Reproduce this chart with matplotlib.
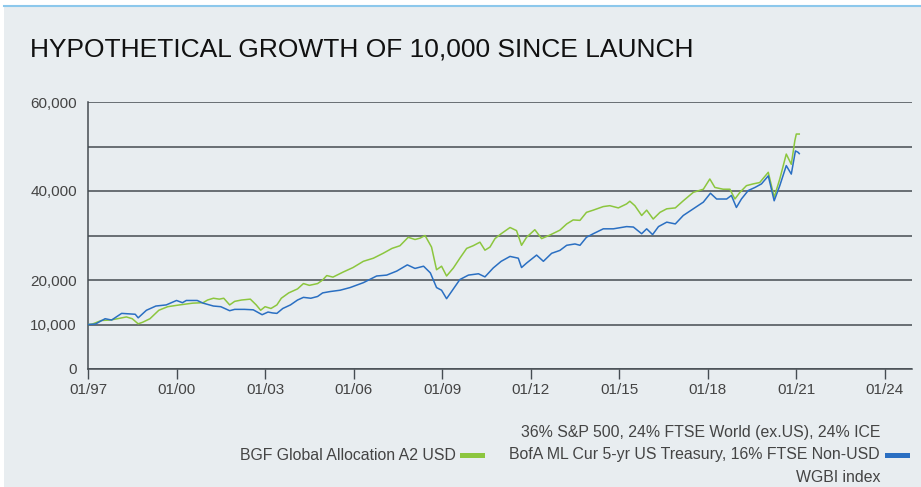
import matplotlib.pyplot as plt
from matplotlib.patches import Rectangle
from matplotlib.lines import Line2D

plt.rcParams['font.family'] = ['Liberation Sans', 'DejaVu Sans']

# Lecture approximative des deux courbes (année décimale, valeur)
fund_years = [1997.0, 1997.15, 1997.45, 1997.75, 1998.0, 1998.3, 1998.5, 1998.7, 1998.85,
              1999.1, 1999.4, 1999.7, 2000.1, 2000.55, 2000.9, 2001.05, 2001.25, 2001.45,
              2001.6, 2001.8, 2001.97, 2002.2, 2002.5, 2002.7, 2002.85, 2003.0, 2003.2,
              2003.4, 2003.55, 2003.8, 2004.1, 2004.3, 2004.5, 2004.78, 2004.95, 2005.09,
              2005.3, 2005.65, 2005.98, 2006.33, 2006.67, 2007.0, 2007.3, 2007.57, 2007.85,
              2008.08, 2008.25, 2008.42, 2008.64, 2008.81, 2008.98, 2009.15, 2009.38, 2009.6,
              2009.83, 2010.05, 2010.28, 2010.45, 2010.62, 2010.79, 2011.0, 2011.3, 2011.52,
              2011.69, 2011.86, 2012.14, 2012.37, 2012.65, 2012.99, 2013.22, 2013.44, 2013.67,
              2013.89, 2014.12, 2014.46, 2014.68, 2014.97, 2015.25, 2015.36, 2015.53, 2015.76,
              2015.93, 2016.15, 2016.38, 2016.61, 2016.9, 2017.17, 2017.51, 2017.85, 2018.07,
              2018.24, 2018.52, 2018.75, 2018.92, 2019.09, 2019.31, 2019.54, 2019.76, 2020.05,
              2020.25, 2020.44, 2020.66, 2020.83, 2020.95, 2021.0, 2021.1]
fund_values = [10000, 10100, 10900, 11000, 11300, 11700, 11300, 10150, 10500,
               11300, 13200, 14000, 14400, 14800, 14900, 15500, 15900, 15700,
               15900, 14400, 15200, 15500, 15700, 14400, 13200, 14000, 13600,
               14400, 15900, 17100, 18000, 19200, 18800, 19200, 20000, 21000,
               20650, 21800, 22800, 24200, 24900, 26000, 27100, 27700, 29600,
               29100, 29400, 30000, 27400, 22300, 23100, 20900, 22700, 24900,
               27100, 27700, 28500, 26700, 27400, 29300, 30400, 31800, 31100,
               27800, 29600, 31300, 29300, 30100, 31200, 32600, 33500, 33400,
               35200, 35700, 36500, 36700, 36200, 37100, 37700, 36700, 34500,
               35700, 33700, 35200, 36000, 36200, 37800, 39700, 40400, 42700,
               40800, 40400, 40400, 38200, 39700, 41200, 41600, 41900, 44200,
               38600, 42700, 48300, 46000, 51300, 52800, 52800]

bench_years = [1997.0, 1997.25, 1997.58, 1997.8, 1998.14, 1998.6, 1998.7, 1998.98, 1999.3,
               1999.65, 2000.0, 2000.2, 2000.33, 2000.7, 2000.9, 2001.25, 2001.5, 2001.8,
               2001.97, 2002.3, 2002.6, 2002.9, 2003.1, 2003.25, 2003.4, 2003.6, 2003.86,
               2004.1, 2004.3, 2004.55, 2004.78, 2004.95, 2005.2, 2005.54, 2005.88, 2006.33,
               2006.78, 2007.12, 2007.46, 2007.82, 2008.08, 2008.37, 2008.6, 2008.81, 2008.98,
               2009.15, 2009.38, 2009.6, 2009.89, 2010.23, 2010.45, 2010.73, 2011.0, 2011.3,
               2011.58, 2011.69, 2011.86, 2012.2, 2012.43, 2012.71, 2012.99, 2013.22, 2013.5,
               2013.67, 2013.89, 2014.12, 2014.46, 2014.8, 2015.25, 2015.48, 2015.76, 2015.93,
               2016.13, 2016.33, 2016.61, 2016.9, 2017.17, 2017.51, 2017.85, 2018.09, 2018.3,
               2018.64, 2018.8, 2018.97, 2019.14, 2019.37, 2019.6, 2019.82, 2020.05, 2020.25,
               2020.44, 2020.66, 2020.83, 2020.97, 2021.06, 2021.1]
bench_values = [10000, 10100, 11300, 11000, 12500, 12300, 11500, 13200, 14150,
                14400, 15400, 14900, 15400, 15400, 14800, 14150, 14000, 13100,
                13400, 13400, 13300, 12200, 12800, 12600, 12500, 13600, 14400,
                15500, 16100, 15900, 16300, 17100, 17400, 17700, 18300, 19400,
                20900, 21100, 22000, 23400, 22600, 23100, 21600, 18300, 17700,
                15800, 18000, 20100, 21100, 21400, 20700, 22700, 24200, 25300,
                24900, 22800, 23800, 25600, 24200, 26000, 26650, 27800, 28100,
                27800, 29600, 30400, 31500, 31500, 32000, 31900, 30400, 31500,
                30200, 32000, 33000, 32600, 34500, 36000, 37500, 39500, 38200,
                38200, 39000, 36300, 38200, 40100, 40800, 41600, 43400, 37800,
                41200, 45700, 43800, 49000, 48700, 48400]

x_tick_years = list(range(1997, 2025, 3))
x_tick_labels = ['01/%02d' % (y % 100) for y in x_tick_years]
y_ticks = [0, 10000, 20000, 30000, 40000, 50000, 60000]
y_tick_labels = ['0', '10,000', '20,000', '', '40,000', '', '60,000']

fund_name = 'BGF Global Allocation A2 USD'
bench_lines = ['36% S&P 500, 24% FTSE World (ex.US), 24% ICE',
               'BofA ML Cur 5-yr US Treasury, 16% FTSE Non-USD',
               'WGBI index']

bg = '#e8edf0'
green = '#8cc63e'
blue = '#2a6fc2'
grid_col = '#454c52'

W, H = 921, 487
fig = plt.figure(figsize=(W / 100, H / 100), dpi=100)
fig.patch.set_facecolor('white')
fig.patches.append(Rectangle((4 / W, 0), 1, 1 - 6 / H, transform=fig.transFigure,
                             facecolor=bg, edgecolor='none', zorder=-10))
fig.lines.append(Line2D([4 / W, 1], [1 - 6 / H, 1 - 6 / H], transform=fig.transFigure,
                        color='#8cc8ec', lw=1.5))

fig.text(30 / W, 1 - 57 / H, 'HYPOTHETICAL GROWTH OF 10,000 SINCE LAUNCH',
         fontsize=19, color='#111111', va='baseline', ha='left')

ax = fig.add_axes([88 / W, 1 - 369 / H, (912 - 88) / W, (369 - 102) / H])
ax.set_facecolor(bg)
ax.plot(fund_years, fund_values, color=green, lw=1.1, zorder=3)
ax.plot(bench_years, bench_values, color=blue, lw=1.1, zorder=4)

ax.set_xlim(1997, 2024.92)
ax.set_ylim(0, 60000)
ax.set_yticks(y_ticks)
ax.set_yticklabels(y_tick_labels)
ax.set_xticks(x_tick_years)
ax.set_xticklabels(x_tick_labels)
ax.grid(axis='y', color=grid_col, lw=1.1)
ax.set_axisbelow(True)
for s in ['top', 'right']:
    ax.spines[s].set_visible(False)
for s in ['left', 'bottom']:
    ax.spines[s].set_color(grid_col)
    ax.spines[s].set_linewidth(1.1)
ax.tick_params(axis='y', length=0, pad=8, labelsize=11, labelcolor='#444444')
ax.tick_params(axis='x', length=7, width=1.0, color=grid_col, pad=3,
               labelsize=11, labelcolor='#444444')

# Légende dessinée à la main
leg_col = '#444444'
fig.text(456 / W, 1 - 455 / H, fund_name, fontsize=11.4, color=leg_col,
         ha='right', va='center')
fig.patches.append(Rectangle((460 / W, 1 - 458 / H), 25 / W, 5 / H,
                             transform=fig.transFigure, facecolor=green, edgecolor='none'))
for i, txt in enumerate(bench_lines):
    fig.text(880 / W, 1 - (432 + 22.5 * i) / H, txt, fontsize=11.4, color=leg_col,
             ha='right', va='center')
fig.patches.append(Rectangle((885 / W, 1 - 458 / H), 25 / W, 5 / H,
                             transform=fig.transFigure, facecolor=blue, edgecolor='none'))

fig.savefig('out.png', dpi=100, facecolor=fig.get_facecolor())
